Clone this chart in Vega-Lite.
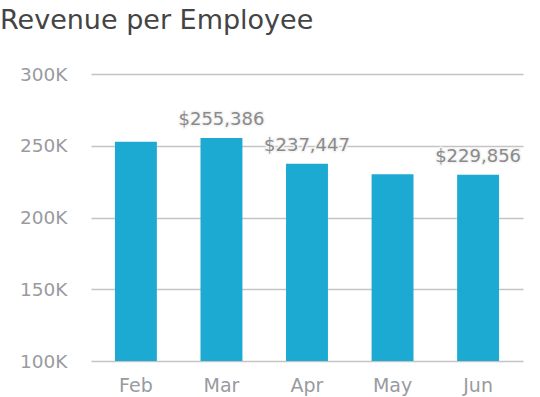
{
  "$schema": "https://vega.github.io/schema/vega-lite/v6.json",
  "width": 432,
  "height": 287,
  "autosize": "none",
  "padding": {"left": 91, "top": 74, "right": 17, "bottom": 36},
  "background": "white",
  "title": {
    "text": "Revenue per Employee",
    "anchor": "start",
    "frame": "group",
    "dx": -91,
    "offset": 30,
    "font": "DejaVu Sans",
    "fontSize": 27,
    "fontWeight": "normal",
    "color": "#444444"
  },
  "data": {
    "values": [
      {"month": "Feb", "revenue": 252800, "show": false},
      {"month": "Mar", "revenue": 255386, "show": true},
      {"month": "Apr", "revenue": 237447, "show": true},
      {"month": "May", "revenue": 230100, "show": false},
      {"month": "Jun", "revenue": 229856, "show": true}
    ]
  },
  "config": {
    "view": {"stroke": null},
    "font": "DejaVu Sans"
  },
  "encoding": {
    "x": {
      "field": "month",
      "type": "nominal",
      "sort": null,
      "scale": {"paddingInner": 0.51, "paddingOuter": 0.28},
      "axis": {
        "title": null,
        "labelAngle": 0,
        "domain": false,
        "ticks": false,
        "labelFontSize": 19,
        "labelColor": "#9a9a9f",
        "labelPadding": 15,
        "labelFont": "DejaVu Sans"
      }
    },
    "y": {
      "field": "revenue",
      "type": "quantitative",
      "scale": {"domain": [100000, 300000], "nice": false, "zero": false},
      "axis": {
        "title": null,
        "values": [100000, 150000, 200000, 250000, 300000],
        "format": "~s",
        "labelExpr": "replace(datum.label, 'k', 'K')",
        "domain": false,
        "ticks": false,
        "labelFontSize": 18.5,
        "labelColor": "#9a9a9f",
        "labelPadding": 24,
        "labelFont": "DejaVu Sans",
        "gridColor": "#c4c4c4",
        "gridWidth": 1.5
      }
    }
  },
  "layer": [
    {
      "mark": {"type": "bar", "color": "#1CAAD2", "clip": true}
    },
    {
      "transform": [{"filter": "datum.show"}],
      "mark": {
        "type": "text",
        "dy": -13,
        "baseline": "alphabetic",
        "fontSize": 18,
        "font": "DejaVu Sans",
        "stroke": "#f4f4f4",
        "strokeWidth": 3,
        "strokeJoin": "round",
        "color": "#f4f4f4"
      },
      "encoding": {"text": {"field": "revenue", "type": "quantitative", "format": "$,.0f"}}
    },
    {
      "transform": [{"filter": "datum.show"}],
      "mark": {
        "type": "text",
        "dy": -13,
        "baseline": "alphabetic",
        "fontSize": 18,
        "font": "DejaVu Sans",
        "color": "#8a8a8a"
      },
      "encoding": {"text": {"field": "revenue", "type": "quantitative", "format": "$,.0f"}}
    }
  ]
}
